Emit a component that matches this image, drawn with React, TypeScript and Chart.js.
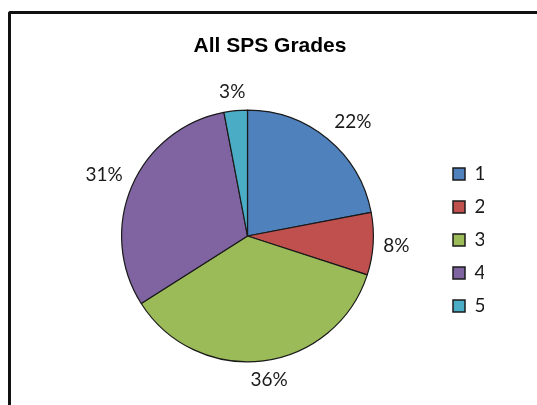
import React, { useEffect, useRef } from "react";
import { Chart, registerables } from "chart.js";

Chart.register(...registerables);

const categories = ["1", "2", "3", "4", "5"];
const shares = [22, 8, 36, 31, 3];
const sliceColors = ["#4F81BD", "#C0504D", "#9BBB59", "#8064A2", "#4BACC6"];
const chartTitle = "All SPS Grades";

const LABEL_FONT = "19px Lato";
const TEXT_COLOR = "#1a1a1a";

const outsideLabels = {
  id: "outsideLabels",
  afterDatasetsDraw(chart: any) {
    const ctx = chart.ctx;
    const meta = chart.getDatasetMeta(0);
    const data = chart.data.datasets[0].data as number[];
    ctx.save();
    ctx.font = LABEL_FONT;
    ctx.fillStyle = TEXT_COLOR;
    ctx.textAlign = "center";
    ctx.textBaseline = "middle";
    meta.data.forEach((arc: any, i: number) => {
      const { x, y, startAngle, endAngle, outerRadius } = arc.getProps(
        ["x", "y", "startAngle", "endAngle", "outerRadius"],
        true
      );
      const mid = (startAngle + endAngle) / 2;
      const dx = Math.cos(mid);
      const dy = Math.sin(mid);
      const text = data[i] + "%";
      const w = ctx.measureText(text).width;
      const h = 18;
      const r = outerRadius + 10;
      const fx = Math.sign(dx) * Math.min(1, Math.abs(dx) * 2);
      const fy = Math.sign(dy) * Math.min(1, Math.abs(dy) * 2);
      const cx = x + dx * r + (fx * w) / 2;
      const cy = y + dy * r + (fy * h) / 2;
      ctx.fillText(text, cx, cy);
    });
    ctx.restore();
  },
};

export default function App() {
  const canvasRef = useRef<HTMLCanvasElement | null>(null);

  useEffect(() => {
    if (!canvasRef.current) return;
    const chart = new Chart(canvasRef.current, {
      type: "pie",
      data: {
        labels: categories,
        datasets: [
          {
            data: shares,
            backgroundColor: sliceColors,
            borderColor: "#1a1a1a",
            borderWidth: 1.2,
          },
        ],
      },
      options: {
        animation: false,
        responsive: false,
        devicePixelRatio: 1,
        layout: { padding: { left: 56, right: 53, top: 0, bottom: 42.5 } },
        plugins: {
          title: {
            display: true,
            text: chartTitle,
            color: "#000",
            font: { family: "Liberation Sans", size: 21, weight: "bold" },
            padding: { top: 33.5, bottom: 50.8 },
          },
          legend: {
            position: "right",
            align: "center",
            fullSize: false,
            maxWidth: 45,
            title: { display: true, text: "", font: { size: 5 }, padding: 1 },
            labels: {
              boxWidth: 12,
              boxHeight: 12,
              padding: 14,
              color: TEXT_COLOR,
              font: { family: "Lato", size: 19 },
              generateLabels: () =>
                categories.map((c, i) => ({
                  text: c,
                  fillStyle: sliceColors[i],
                  strokeStyle: "#1a1a1a",
                  fontColor: TEXT_COLOR,
                  lineWidth: 1.5,
                  hidden: false,
                  index: i,
                  datasetIndex: 0,
                })),
            },
          },
          tooltip: { enabled: false },
        },
      },
      plugins: [outsideLabels],
    });
    return () => chart.destroy();
  }, []);

  return (
    <div
      style={{
        position: "fixed",
        left: 0,
        top: 0,
        width: 537,
        height: 405,
        background: "#fff",
        overflow: "hidden",
      }}
    >
      <div
        style={{
          position: "absolute",
          left: 8,
          top: 11,
          width: 600,
          height: 500,
          borderLeft: "3px solid #111",
          borderTop: "3px solid #111",
          borderTopLeftRadius: 3,
        }}
      />
      <canvas
        ref={canvasRef}
        width={537}
        height={405}
        style={{ position: "absolute", left: 0, top: 0, width: 537, height: 405 }}
      />
    </div>
  );
}
